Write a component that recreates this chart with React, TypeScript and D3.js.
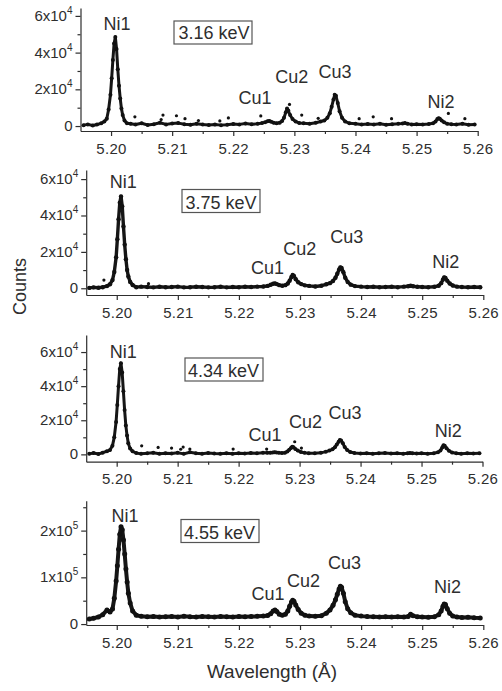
import React, { useEffect, useRef } from "react";
import * as d3 from "d3";

// shared wavelength grid (Å), denser around the lines
const wavelength = [
  5.1955, 5.1962, 5.197, 5.1977, 5.1984, 5.1989,
  5.1993, 5.1996, 5.1999, 5.2001, 5.2003, 5.2005, 5.2007, 5.2009, 5.2011, 5.2013, 5.2015, 5.2017, 5.2019, 5.2022, 5.2026,
  5.2032, 5.204, 5.205, 5.206, 5.207, 5.208, 5.209, 5.21, 5.211, 5.212, 5.213, 5.214, 5.215, 5.216, 5.217, 5.218, 5.219, 5.22, 5.221, 5.222, 5.223, 5.224, 5.2247,
  5.2252, 5.2256, 5.2259, 5.2262, 5.2266, 5.2271, 5.2276, 5.228, 5.2283, 5.2286, 5.2288, 5.229, 5.2293, 5.2297, 5.2302, 5.2308,
  5.2315, 5.2325, 5.2335, 5.2343,
  5.2349, 5.2354, 5.2358, 5.2361, 5.2364, 5.2366, 5.2368, 5.2371, 5.2374, 5.2378, 5.2383, 5.239,
  5.24, 5.241, 5.242, 5.243, 5.244, 5.245, 5.246, 5.247, 5.2477, 5.2481, 5.2485, 5.2492, 5.25, 5.251, 5.252, 5.2527,
  5.2531, 5.2534, 5.2536, 5.2538, 5.2541, 5.2545, 5.255,
  5.2557, 5.2565, 5.2575, 5.2585, 5.2595,
];

const counts316 = [
  500, 900, 300, 800, 1500, 2500,
  4000, 9000, 17000, 26000, 36000, 45000, 48500, 42000, 31000, 22000, 15000, 9500, 6000, 3000, 1500,
  1200, 800, 1500, 600, 1000, 1800, 900, 1400, 1600, 1000, 700, 1300, 900, 600, 800, 500, 700, 1100, 900, 1400, 1000, 1200, 1600,
  2000, 2600, 2800, 2400, 1800, 1500, 1800, 2800, 4500, 7500, 9500, 8500, 6000, 3800, 2500, 1600,
  1500, 1200, 1800, 2500,
  3000, 4500, 7000, 10500, 14500, 17000, 16500, 12500, 8000, 4500, 2500, 1500,
  1200, 800, 1100, 900, 1300, 700, 1000, 1200, 1400, 1600, 1300, 900, 1000, 800, 1100, 1500,
  2500, 3800, 4300, 4000, 3000, 2000, 1300,
  1000, 800, 1200, 700, 900,
];

const counts375 = [
  200, 500, 300, 600, 1200, 2200,
  4500, 9000, 17000, 27000, 38000, 47000, 50500, 45000, 34000, 24000, 16000, 10000, 6500, 3500, 1800,
  600, 900, 700, 500, 800, 600, 700, 900, 500, 600, 800, 700, 500, 600, 800, 500, 700, 600, 800, 700, 900, 1000, 1300,
  1900, 2500, 2700, 2300, 1700, 1400, 1700, 2600, 4200, 6200, 7300, 6800, 5000, 3300, 2300, 1600,
  1300, 1000, 1400, 2200,
  2800, 4000, 5800, 8000, 10300, 11500, 11200, 8800, 5800, 3500, 2000, 1200,
  900, 700, 800, 600, 700, 800, 600, 900, 1100, 1400, 1100, 800, 700, 600, 800, 1400,
  2800, 4800, 6000, 5700, 4200, 2600, 1500,
  900, 700, 600, 700, 600,
];

const counts434 = [
  300, 800, 200, 1000, 1800, 2500,
  5000, 10000, 19000, 29000, 40000, 50000, 53500, 48000, 37000, 26000, 17000, 11000, 6500, 3500, 1800,
  800, 300, 600, 1000, 400, 700, 500, 900, 300, 1200, 600, 400, 800, 500, 300, 600, 400, 700, 500, 800, 600, 900, 1000,
  900, 1100, 1300, 1100, 900, 800, 1000, 1700, 2700, 3800, 4500, 4200, 3200, 2200, 1400, 900,
  700, 600, 900, 1600,
  2200, 3000, 4200, 5800, 7400, 8400, 8200, 6500, 4300, 2600, 1400, 800,
  500, 700, 400, 600, 800, 500, 700, 400, 600, 800, 700, 500, 600, 400, 700, 1200,
  2200, 4000, 5300, 5000, 3600, 2100, 1100,
  600, 400, 700, 500, 600,
];

const counts455 = [
  11000, 12500, 15000, 20000, 30000, 26000,
  32000, 55000, 92000, 125000, 160000, 192000, 208000, 202000, 180000, 150000, 118000, 90000, 66000, 45000, 28000,
  19000, 16500, 15500, 16000, 15000, 15500, 16000, 15000, 16500, 15500, 15000, 16000, 15500, 15000, 16000, 15500, 15000, 16000, 15500, 16000, 16500, 17000, 18500,
  22000, 28000, 30000, 27000, 21000, 19000, 21000, 28000, 38000, 47000, 51000, 49000, 41000, 31000, 23000, 19000,
  17000, 16500, 18000, 23000,
  30000, 40000, 52000, 64000, 75000, 81000, 79000, 66000, 48000, 33000, 24000, 19000,
  17000, 16000, 15500, 15000, 15500, 15000, 15500, 15000, 16000, 21000, 18000, 15500, 15000, 14500, 15500, 20000,
  28000, 38000, 43000, 42000, 33000, 23000, 17000,
  15000, 14000, 14500, 13500, 13000,
];

// isolated noisy points off the main band
const strayWl316 = [5.2039, 5.2082, 5.2085, 5.2107, 5.2121, 5.2143, 5.2178, 5.2192, 5.2245, 5.2292, 5.2312, 5.2339, 5.2406, 5.2429, 5.2459, 5.2552, 5.2579];
const strayCounts316 = [5000, 3500, 6000, 5600, 4000, 3000, 2800, 4400, 5500, 11800, 6000, 4200, 4000, 5000, 4000, 6900, 4000];
const strayWl375 = [5.1979, 5.2052];
const strayCounts375 = [4500, 2500];
const strayWl434 = [5.2041, 5.2068, 5.209, 5.2105, 5.2109, 5.212, 5.2191, 5.2246, 5.2292, 5.2303];
const strayCounts434 = [5000, 4100, 3700, 3000, 4300, 3100, 3100, 3100, 7400, 3700];
const strayWl455: number[] = [];
const strayCounts455: number[] = [];

const energies = ["3.16 keV", "3.75 keV", "4.34 keV", "4.55 keV"];
const peakNames = ["Ni1", "Cu1", "Cu2", "Cu3", "Ni2"];

const xTicks = [5.2, 5.21, 5.22, 5.23, 5.24, 5.25, 5.26];
const xMinor = [5.205, 5.215, 5.225, 5.235, 5.245, 5.255];
const yTicks4 = [0, 20000, 40000, 60000];
const yMinor4 = [10000, 30000, 50000];
const yLabels4 = ["0", "2x10", "4x10", "6x10"];
const yTicks5 = [0, 100000, 200000];
const yMinor5 = [50000, 150000, 250000];
const yLabels5 = ["0", "1x10", "2x10"];

const series = [counts316, counts375, counts434, counts455];
const strayWl = [strayWl316, strayWl375, strayWl434, strayWl455];
const strayCounts = [strayCounts316, strayCounts375, strayCounts434, strayCounts455];

// pixel layout of each panel (page coords)
const panels = [
  { x0: 80.5, x1: 477.7, top: 8, bot: 131, yMin: -2700, yMax: 64300, exp: "4", band: 3,
    box: [174, 21], energyAt: [214, 38.5],
    labels: [[117, 30], [255, 104], [291.7, 83.3], [335, 77.7], [441, 108.3]] },
  { x0: 86.2, x1: 483.3, top: 170, bot: 295, yMin: -3700, yMax: 65000, exp: "4", band: 3.4,
    box: [182, 189.5], energyAt: [221, 208.5],
    labels: [[123.3, 188.3], [267.5, 274.3], [299.7, 255], [346.7, 243.3], [445.8, 268.3]] },
  { x0: 86.2, x1: 482.5, top: 335, bot: 461.7, yMin: -4300, yMax: 70000, exp: "4", band: 3,
    box: [185, 358], energyAt: [223.5, 376.5],
    labels: [[123.3, 358.3], [265, 440.7], [305.5, 428.3], [345, 419.3], [448.3, 436.7]] },
  { x0: 86.2, x1: 483.3, top: 500.7, bot: 625, yMin: -2000, yMax: 264000, exp: "5", band: 4,
    box: [181, 519.5], energyAt: [219.5, 539],
    labels: [[125, 522.3], [268, 600], [303.5, 587.3], [344.5, 569], [447.5, 593.3]] },
];

const FONT = "'Liberation Sans', Arial, Helvetica, sans-serif";
const INK = "#2e2e2e";

const App = () => {
  const ref = useRef<SVGSVGElement>(null);

  useEffect(() => {
    if (!ref.current) return;
    const svg = d3.select(ref.current);
    svg.selectAll("*").remove();

    panels.forEach((p, i) => {
      const g = svg.append("g");
      const x = d3.scaleLinear().domain([5.195, 5.26]).range([p.x0, p.x1]);
      const y = d3.scaleLinear().domain([p.yMin, p.yMax]).range([p.bot, p.top]);
      const big = p.exp === "5";
      const yTicks = big ? yTicks5 : yTicks4;
      const yMinor = big ? yMinor5 : yMinor4;
      const yLabels = big ? yLabels5 : yLabels4;

      // x axis
      const xa = g.append("g")
        .attr("transform", `translate(0,${p.bot})`)
        .call(d3.axisBottom(x).tickValues(xTicks).tickFormat(d3.format(".2f")).tickSize(5).tickSizeOuter(0).tickPadding(7));
      g.append("g")
        .attr("transform", `translate(0,${p.bot})`)
        .call(d3.axisBottom(x).tickValues(xMinor).tickFormat(() => "").tickSize(3).tickSizeOuter(0))
        .select(".domain").remove();

      // y axis
      const ya = g.append("g")
        .attr("transform", `translate(${p.x0},0)`)
        .call(d3.axisLeft(y).tickValues(yTicks).tickFormat(() => "").tickSize(5).tickSizeOuter(0));
      g.append("g")
        .attr("transform", `translate(${p.x0},0)`)
        .call(d3.axisLeft(y).tickValues(yMinor).tickFormat(() => "").tickSize(3).tickSizeOuter(0))
        .select(".domain").remove();

      g.selectAll(".domain, .tick line").attr("stroke", INK).attr("stroke-width", 1.2);
      xa.selectAll("text")
        .attr("font-family", FONT).attr("font-size", 15).attr("fill", INK).attr("letter-spacing", 0.3);
      ya.selectAll(".tick text").remove();

      yTicks.forEach((v, k) => {
        const t = g.append("text")
          .attr("x", p.x0 - 8).attr("y", y(v) + 5)
          .attr("text-anchor", "end")
          .attr("font-family", FONT).attr("font-size", 15).attr("fill", INK);
        if (v === 0) {
          t.text(yLabels[k]);
        } else {
          t.append("tspan").text(yLabels[k]);
          t.append("tspan").attr("font-size", 10).attr("dy", -7).text(p.exp);
        }
      });

      // spectrum
      const pts = wavelength.map((w, k) => [w, series[i][k]] as [number, number]);
      const line = d3.line<[number, number]>().x(d => x(d[0])).y(d => y(d[1]));
      g.append("path")
        .datum(pts)
        .attr("fill", "none")
        .attr("stroke", "#161616")
        .attr("stroke-width", p.band)
        .attr("stroke-linejoin", "round")
        .attr("d", line);
      g.selectAll("circle.pt")
        .data(pts)
        .join("circle")
        .attr("class", "pt")
        .attr("cx", d => x(d[0]))
        .attr("cy", d => y(d[1]))
        .attr("r", p.band / 2 + 0.5)
        .attr("fill", "#111");
      g.selectAll("circle.stray")
        .data(strayWl[i].map((w, k) => [w, strayCounts[i][k]]))
        .join("circle")
        .attr("class", "stray")
        .attr("cx", d => x(d[0]))
        .attr("cy", d => y(d[1]))
        .attr("r", 1.6)
        .attr("fill", "#111");

      // peak names
      peakNames.forEach((name, k) => {
        g.append("text")
          .attr("x", p.labels[k][0]).attr("y", p.labels[k][1])
          .attr("text-anchor", "middle")
          .attr("font-family", FONT).attr("font-size", 18).attr("fill", INK)
          .text(name);
      });

      // energy box
      g.append("rect")
        .attr("x", p.box[0]).attr("y", p.box[1])
        .attr("width", 78).attr("height", 23)
        .attr("fill", "#fff").attr("stroke", "#555").attr("stroke-width", 1.2);
      g.append("text")
        .attr("x", p.energyAt[0]).attr("y", p.energyAt[1])
        .attr("text-anchor", "middle")
        .attr("font-family", FONT).attr("font-size", 18).attr("fill", INK)
        .text(energies[i]);
    });

    svg.append("text")
      .attr("transform", "translate(26,286.5) rotate(-90)")
      .attr("text-anchor", "middle")
      .attr("font-family", FONT).attr("font-size", 18).attr("fill", INK)
      .text("Counts");

    svg.append("text")
      .attr("x", 272).attr("y", 678)
      .attr("text-anchor", "middle")
      .attr("font-family", FONT).attr("font-size", 19).attr("fill", INK)
      .text("Wavelength (Å)");
  }, []);

  return (
    <svg
      ref={ref}
      width={502}
      height={691}
      style={{ position: "absolute", left: 0, top: 0, background: "#fff" }}
    />
  );
};

export default App;
